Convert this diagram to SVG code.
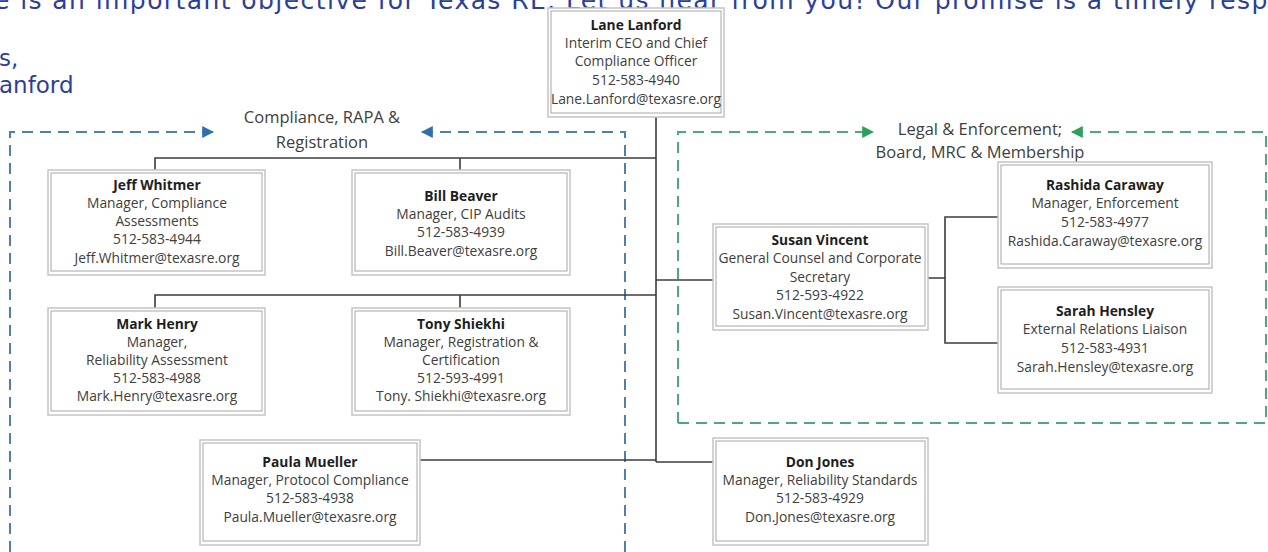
<svg xmlns="http://www.w3.org/2000/svg" width="1268" height="552" viewBox="0 0 1268 552">
<style>
  .hdr{font-family:"DejaVu Sans",Verdana,sans-serif;font-size:23px;fill:#2b3f99}
  .top{font-size:25px}
  .title{font-family:"Open Sans","Liberation Sans",Arial,sans-serif;font-size:16.5px;fill:#404040;text-anchor:middle}
  .t{font-family:"Open Sans","Liberation Sans",Arial,sans-serif;font-size:13.8px;fill:#404040;text-anchor:middle}
  .n{font-weight:bold;fill:#1e1e1e}
  .ob{fill:#fff;stroke:#c4c4c4;stroke-width:1.5}
  .ib{fill:none;stroke:#a6a6a6;stroke-width:1}
  .ln{fill:none;stroke:#3c3c3c;stroke-width:1.6}
  .db{fill:none;stroke:#4f7fae;stroke-width:2;stroke-dasharray:11 7}
  .dg{fill:none;stroke:#4fa877;stroke-width:2;stroke-dasharray:11 7}
</style>
<defs>
  <marker id="ab" viewBox="0 0 10 10" refX="9" refY="5" markerWidth="6" markerHeight="6" orient="auto-start-reverse" markerUnits="strokeWidth">
    <path d="M0,0 L10,5 L0,10 z" fill="#2f6fb0"/>
  </marker>
  <marker id="ag" viewBox="0 0 10 10" refX="9" refY="5" markerWidth="6" markerHeight="6" orient="auto-start-reverse" markerUnits="strokeWidth">
    <path d="M0,0 L10,5 L0,10 z" fill="#2aa05a"/>
  </marker>
</defs>
<rect width="1268" height="552" fill="#fff"/>

<g id="header">
  <text class="hdr top" x="-6" y="9" textLength="1290" lengthAdjust="spacing">e is an important objective for Texas RE.  Let us hear from you!  Our promise is a timely respo</text>
  <text class="hdr" x="-1" y="66">s,</text>
  <text class="hdr" x="-1" y="93">anford</text>
</g>

<g id="groups">
  <path class="db" d="M10,552 V132 H213" marker-end="url(#ab)"/>
  <path class="db" d="M422,132 H625 V552" marker-start="url(#ab)"/>
  <text class="title" x="322" y="123">Compliance, RAPA &amp;</text>
  <text class="title" x="322" y="148">Registration</text>
  <path class="dg" d="M678,423 V132 H873" marker-end="url(#ag)"/>
  <path class="dg" d="M1072,132 H1266 V423 H678" marker-start="url(#ag)"/>
  <text class="title" x="980" y="135">Legal &amp; Enforcement;</text>
  <text class="title" x="980" y="158">Board, MRC &amp; Membership</text>
</g>

<g id="connectors">
  <path class="ln" d="M656,117 V462"/>
  <path class="ln" d="M155,170 V158 H656 M460,158 V170"/>
  <path class="ln" d="M155,308 V295 H656 M460,295 V308"/>
  <path class="ln" d="M656,280 H713"/>
  <path class="ln" d="M420,460 H656"/>
  <path class="ln" d="M656,462 H713"/>
  <path class="ln" d="M928,278 H945 M998,217 H945 V343 H998"/>
</g>

<g id="lane">
  <rect class="ob" x="548" y="8" width="176" height="109"/>
  <rect class="ib" x="551" y="11" width="170" height="102"/>
  <text class="t n" x="636" y="30">Lane Lanford</text>
  <text class="t" x="636" y="48">Interim CEO and Chief</text>
  <text class="t" x="636" y="66">Compliance Officer</text>
  <text class="t" x="636" y="85">512-583-4940</text>
  <text class="t" x="636" y="104">Lane.Lanford@texasre.org</text>
</g>

<g id="jeff">
  <rect class="ob" x="48" y="170" width="217" height="105"/>
  <rect class="ib" x="51" y="173" width="211" height="98"/>
  <text class="t n" x="157" y="190">Jeff Whitmer</text>
  <text class="t" x="157" y="208">Manager, Compliance</text>
  <text class="t" x="157" y="226">Assessments</text>
  <text class="t" x="157" y="244">512-583-4944</text>
  <text class="t" x="157" y="263">Jeff.Whitmer@texasre.org</text>
</g>

<g id="bill">
  <rect class="ob" x="352" y="170" width="218" height="105"/>
  <rect class="ib" x="355" y="173" width="212" height="98"/>
  <text class="t n" x="461" y="201">Bill Beaver</text>
  <text class="t" x="461" y="219">Manager, CIP Audits</text>
  <text class="t" x="461" y="237">512-583-4939</text>
  <text class="t" x="461" y="256">Bill.Beaver@texasre.org</text>
</g>

<g id="mark">
  <rect class="ob" x="48" y="308" width="217" height="107"/>
  <rect class="ib" x="51" y="311" width="211" height="100"/>
  <text class="t n" x="157" y="329">Mark Henry</text>
  <text class="t" x="157" y="347">Manager,</text>
  <text class="t" x="157" y="365">Reliability Assessment</text>
  <text class="t" x="157" y="383">512-583-4988</text>
  <text class="t" x="157" y="401">Mark.Henry@texasre.org</text>
</g>

<g id="tony">
  <rect class="ob" x="352" y="308" width="218" height="107"/>
  <rect class="ib" x="355" y="311" width="212" height="100"/>
  <text class="t n" x="461" y="329">Tony Shiekhi</text>
  <text class="t" x="461" y="347">Manager, Registration &amp;</text>
  <text class="t" x="461" y="365">Certification</text>
  <text class="t" x="461" y="383">512-593-4991</text>
  <text class="t" x="461" y="401">Tony. Shiekhi@texasre.org</text>
</g>

<g id="paula">
  <rect class="ob" x="200" y="440" width="220" height="105"/>
  <rect class="ib" x="203" y="443" width="214" height="98"/>
  <text class="t n" x="310" y="467">Paula Mueller</text>
  <text class="t" x="310" y="485">Manager, Protocol Compliance</text>
  <text class="t" x="310" y="503">512-583-4938</text>
  <text class="t" x="310" y="522">Paula.Mueller@texasre.org</text>
</g>

<g id="susan">
  <rect class="ob" x="713" y="224" width="215" height="106"/>
  <rect class="ib" x="716" y="227" width="209" height="99"/>
  <text class="t n" x="820" y="245">Susan Vincent</text>
  <text class="t" x="820" y="263">General Counsel and Corporate</text>
  <text class="t" x="820" y="282">Secretary</text>
  <text class="t" x="820" y="300">512-593-4922</text>
  <text class="t" x="820" y="319">Susan.Vincent@texasre.org</text>
</g>

<g id="rashida">
  <rect class="ob" x="998" y="162" width="214" height="106"/>
  <rect class="ib" x="1001" y="165" width="208" height="99"/>
  <text class="t n" x="1105" y="190">Rashida Caraway</text>
  <text class="t" x="1105" y="208">Manager, Enforcement</text>
  <text class="t" x="1105" y="227">512-583-4977</text>
  <text class="t" x="1105" y="246">Rashida.Caraway@texasre.org</text>
</g>

<g id="sarah">
  <rect class="ob" x="998" y="287" width="214" height="106"/>
  <rect class="ib" x="1001" y="290" width="208" height="99"/>
  <text class="t n" x="1105" y="316">Sarah Hensley</text>
  <text class="t" x="1105" y="334">External Relations Liaison</text>
  <text class="t" x="1105" y="353">512-583-4931</text>
  <text class="t" x="1105" y="372">Sarah.Hensley@texasre.org</text>
</g>

<g id="don">
  <rect class="ob" x="713" y="438" width="215" height="107"/>
  <rect class="ib" x="716" y="441" width="209" height="100"/>
  <text class="t n" x="820" y="467">Don Jones</text>
  <text class="t" x="820" y="485">Manager, Reliability Standards</text>
  <text class="t" x="820" y="503">512-583-4929</text>
  <text class="t" x="820" y="522">Don.Jones@texasre.org</text>
</g>
</svg>
